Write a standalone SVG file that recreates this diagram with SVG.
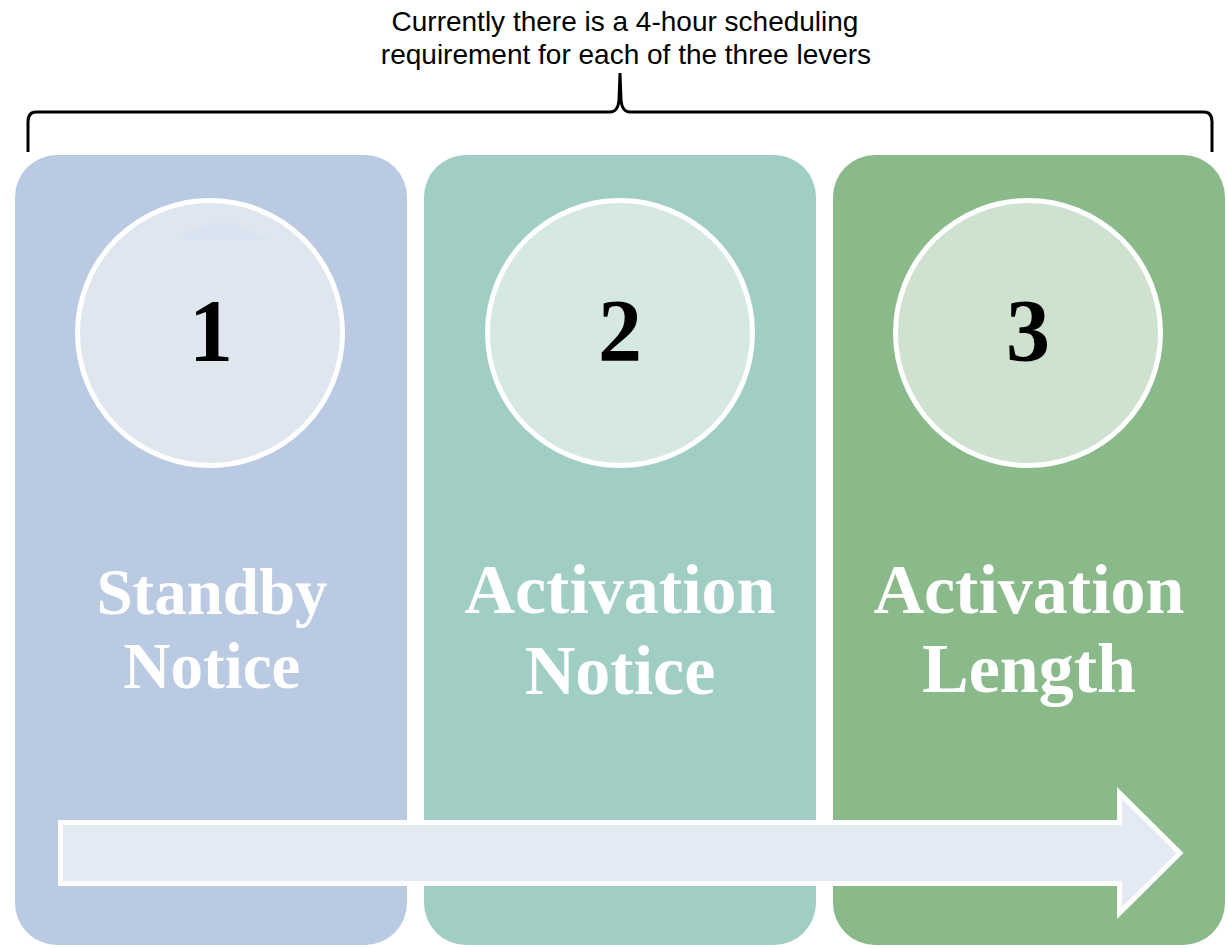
<svg xmlns="http://www.w3.org/2000/svg" width="1228" height="948" viewBox="0 0 1228 948">
  <style>
    .title { font-family: "Liberation Sans", Arial, sans-serif; font-size: 28px; fill: #000; text-anchor: middle; }
    .num { font-family: "Liberation Serif", "Times New Roman", serif; font-weight: bold; font-size: 88px; fill: #000; text-anchor: middle; }
    .label { font-family: "Liberation Serif", "Times New Roman", serif; font-weight: bold; fill: #fff; text-anchor: middle; }
    .circ { stroke: #fff; stroke-width: 5; }
  </style>
  <rect width="1228" height="948" fill="#fff"/>
  <g id="title">
    <text class="title" x="625" y="31">Currently there is a 4-hour scheduling</text>
    <text class="title" x="626" y="64">requirement for each of the three levers</text>
  </g>
  <g id="brace">
    <path d="M28,152 L28,122 Q28,112 36,112 L610,112 Q618,112 619,100 L620,73 L621,100 Q622,112 630,112 L1204,112 Q1212,112 1212,122 L1212,152" fill="none" stroke="#000" stroke-width="3"/>
  </g>
  <g id="node1">
    <rect x="15" y="155" width="392" height="790" rx="42" fill="#B9CAE2"/>
    <circle class="circ" cx="210" cy="333" r="132.5" fill="#DFE6F0"/>
    <path d="M178,240 Q222,205 266,240 Z" fill="#D8E5F1"/>
    <text class="num" x="211" y="360">1</text>
    <text class="label" x="212" y="614" font-size="65">Standby</text>
    <text class="label" x="212" y="688" font-size="65">Notice</text>
  </g>
  <g id="node2">
    <rect x="424" y="155" width="392" height="790" rx="42" fill="#A0CDC4"/>
    <circle class="circ" cx="620" cy="333" r="132.5" fill="#D5E8E4"/>
    <text class="num" x="620" y="360">2</text>
    <text class="label" x="620" y="613" font-size="70">Activation</text>
    <text class="label" x="620" y="694" font-size="70">Notice</text>
  </g>
  <g id="node3">
    <rect x="833" y="155" width="392" height="790" rx="42" fill="#8ABA8A"/>
    <circle class="circ" cx="1028" cy="333" r="132.5" fill="#CFE1CF"/>
    <text class="num" x="1028" y="360">3</text>
    <text class="label" x="1029" y="613" font-size="70">Activation</text>
    <text class="label" x="1029" y="692" font-size="70">Length</text>
  </g>
  <g id="connectors">
    <polygon points="60.5,822.5 1119.5,822.5 1119.5,793 1180,853 1119.5,913 1119.5,883.5 60.5,883.5" fill="#E4EAF3" stroke="#fff" stroke-width="5"/>
  </g>
</svg>
